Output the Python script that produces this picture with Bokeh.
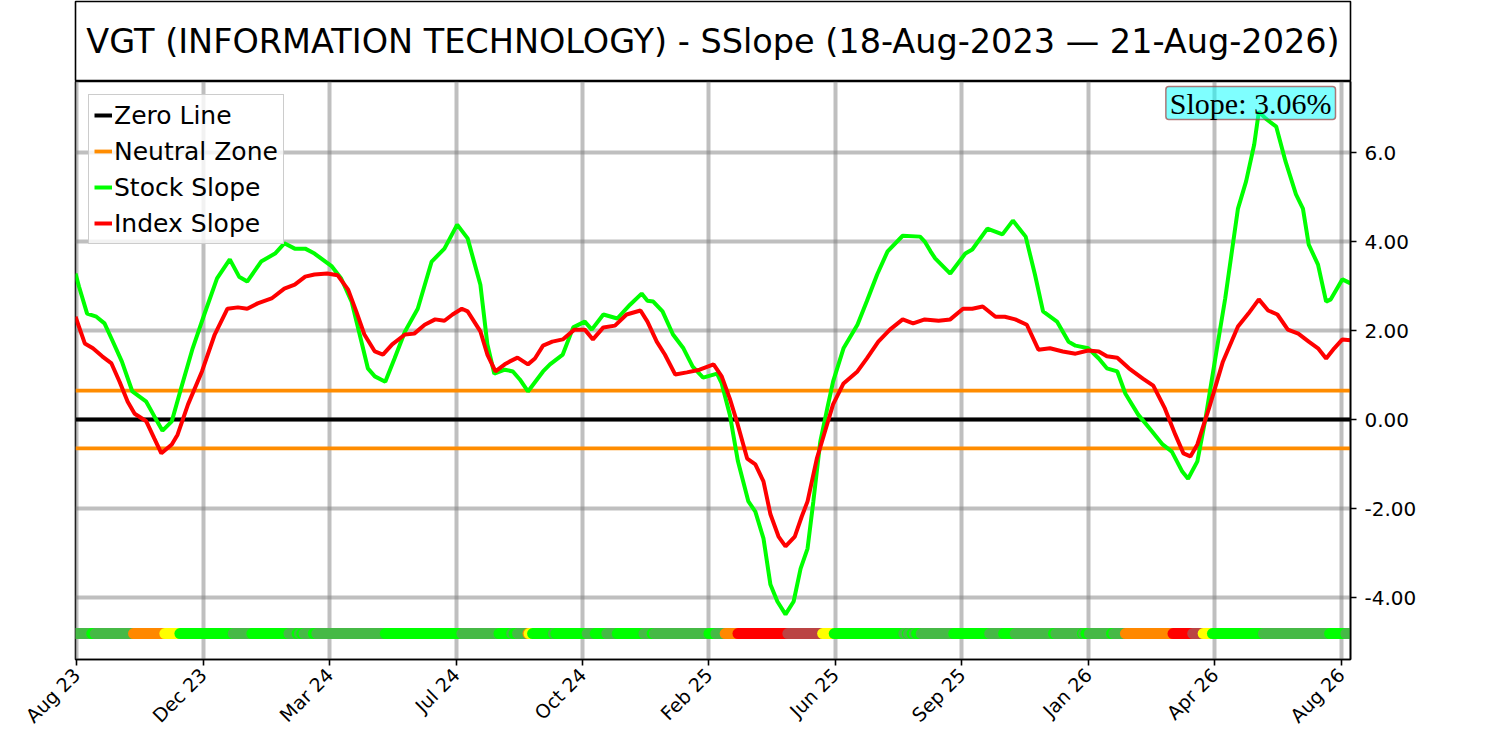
import numpy as np
from bokeh.plotting import figure
from bokeh.models import Range1d, FixedTicker, Label
from bokeh.layouts import column
from bokeh.embed import file_html
from bokeh.resources import INLINE
from bokeh.core.properties import value

TITLE = "VGT (INFORMATION TECHNOLOGY) - SSlope (18-Aug-2023 \u2014 21-Aug-2026)"
SLOPE_TEXT = "Slope: 3.06%"

# x values: days since 18-Aug-2023
x_tick_days = [1, 110, 219, 328, 437, 546, 655, 764, 873, 982, 1091]
x_tick_labels = ["Aug 23", "Dec 23", "Mar 24", "Jul 24", "Oct 24", "Feb 25",
                 "Jun 25", "Sep 25", "Jan 26", "Apr 26", "Aug 26"]
y_ticks = [-4, -2, 0, 2, 4, 6]
y_tick_labels = ["-4.00", "-2.00", "0.00", "2.00", "4.00", "6.0"]

stock_day = [0, 3, 10, 18, 25, 31, 40, 49, 61, 68,
             75, 83, 91, 101, 111, 122, 133, 141, 148, 160,
             172, 180, 189, 198, 206, 221, 229, 238, 247, 252,
             258, 267, 275, 284, 295, 307, 318, 329, 338, 349,
             355, 361, 370, 377, 383, 390, 403, 409, 420, 429,
             439, 445, 455, 467, 478, 488, 493, 498, 506, 515,
             524, 532, 541, 553, 557, 564, 571, 580, 586, 593,
             599, 605, 612, 619, 625, 631, 636, 642, 648, 653,
             662, 674, 682, 691, 700, 713, 728, 732, 737, 741,
             754, 767, 773, 786, 799, 808, 819, 827, 834, 846,
             856, 862, 873, 882, 889, 898, 905, 916, 928, 937,
             945, 954, 959, 967, 974, 983, 991, 1002, 1009, 1016,
             1020, 1026, 1035, 1043, 1052, 1058, 1063, 1071, 1078, 1082,
             1092, 1099]
stock_slope = [3.28, 2.99, 2.38, 2.31, 2.16, 1.82, 1.30, 0.63, 0.40, 0.07,
               -0.25, -0.04, 0.70, 1.60, 2.36, 3.17, 3.60, 3.21, 3.10, 3.55,
               3.73, 3.96, 3.84, 3.84, 3.73, 3.44, 3.17, 2.65, 1.69, 1.15,
               0.97, 0.85, 1.37, 1.98, 2.49, 3.55, 3.84, 4.38, 4.07, 3.03,
               1.69, 1.03, 1.12, 1.08, 0.90, 0.63, 1.08, 1.24, 1.46, 2.07,
               2.20, 2.02, 2.36, 2.27, 2.58, 2.83, 2.67, 2.65, 2.43, 1.91,
               1.60, 1.19, 0.94, 1.03, 0.81, 0.11, -0.94, -1.84, -2.07, -2.67,
               -3.71, -4.09, -4.38, -4.09, -3.35, -2.90, -1.84, -0.49, 0.25, 0.85,
               1.60, 2.13, 2.65, 3.26, 3.78, 4.13, 4.11, 4.00, 3.78, 3.62,
               3.28, 3.73, 3.82, 4.29, 4.16, 4.47, 4.11, 3.26, 2.43, 2.20,
               1.75, 1.66, 1.60, 1.37, 1.15, 1.08, 0.58, 0.11, -0.27, -0.56,
               -0.72, -1.17, -1.33, -0.94, 0.02, 1.46, 2.72, 4.74, 5.35, 6.18,
               6.92, 6.76, 6.58, 5.80, 5.06, 4.74, 3.93, 3.48, 2.65, 2.70,
               3.15, 3.06]

index_day = [0, 8, 15, 23, 31, 38, 45, 51, 61, 68,
             74, 83, 88, 97, 109, 120, 131, 140, 148, 157,
             169, 180, 189, 198, 206, 217, 226, 235, 242, 249,
             258, 265, 273, 284, 292, 301, 310, 318, 325, 333,
             338, 349, 355, 362, 370, 374, 381, 390, 396, 403,
             411, 420, 430, 439, 446, 455, 465, 475, 487, 493,
             501, 508, 517, 527, 538, 550, 557, 564, 570, 579,
             586, 593, 599, 606, 612, 620, 626, 631, 639, 646,
             653, 662, 674, 682, 692, 702, 713, 722, 732, 744,
             754, 765, 773, 782, 793, 801, 810, 820, 830, 840,
             851, 862, 873, 882, 889, 898, 908, 920, 929, 939,
             948, 955, 961, 967, 977, 989, 1002, 1011, 1020, 1028,
             1036, 1045, 1054, 1063, 1071, 1078, 1085, 1092, 1099]
index_slope = [2.31, 1.71, 1.60, 1.42, 1.26, 0.85, 0.40, 0.13, -0.04, -0.43,
               -0.76, -0.56, -0.34, 0.34, 1.08, 1.91, 2.49, 2.52, 2.49, 2.61,
               2.72, 2.94, 3.03, 3.21, 3.26, 3.28, 3.24, 2.92, 2.43, 1.91,
               1.53, 1.46, 1.69, 1.91, 1.93, 2.13, 2.25, 2.22, 2.36, 2.49,
               2.43, 1.98, 1.46, 1.08, 1.24, 1.30, 1.39, 1.24, 1.37, 1.66,
               1.75, 1.80, 2.02, 2.02, 1.80, 2.07, 2.11, 2.36, 2.45, 2.20,
               1.75, 1.46, 1.01, 1.06, 1.12, 1.24, 0.97, 0.47, -0.04, -0.88,
               -1.01, -1.39, -2.13, -2.63, -2.85, -2.63, -2.18, -1.84, -0.88, -0.27,
               0.34, 0.81, 1.08, 1.37, 1.75, 2.02, 2.25, 2.16, 2.25, 2.22,
               2.25, 2.49, 2.49, 2.54, 2.31, 2.31, 2.25, 2.13, 1.57, 1.60,
               1.53, 1.48, 1.55, 1.53, 1.42, 1.39, 1.15, 0.92, 0.76, 0.25,
               -0.34, -0.76, -0.83, -0.56, 0.25, 1.30, 2.09, 2.38, 2.70, 2.45,
               2.36, 2.02, 1.93, 1.75, 1.60, 1.37, 1.60, 1.80, 1.78]

neutral_zone = 0.65

# state strip: start day of each run and its state code
strip_start = [0, 14, 17, 50, 77, 90, 136, 152, 184, 191,
               193, 195, 197, 205, 208, 267, 333, 365, 376, 378,
               381, 390, 391, 394, 412, 414, 441, 448, 458, 467,
               490, 497, 499, 546, 552, 560, 571, 614, 644, 654,
               714, 717, 718, 721, 723, 725, 729, 757, 788, 800,
               810, 843, 845, 868, 869, 871, 874, 893, 895, 905,
               946, 963, 972, 980, 1024, 1081, 1095]
strip_state = ["M", "G", "M", "O", "Y", "G", "M", "G", "M", "G",
               "M", "G", "M", "G", "M", "G", "M", "G", "M", "G",
               "M", "O", "Y", "G", "M", "G", "M", "G", "M", "G",
               "M", "G", "M", "G", "M", "O", "R", "B", "Y", "G",
               "M", "G", "M", "G", "M", "G", "M", "G", "M", "G",
               "M", "G", "M", "G", "M", "G", "M", "G", "M", "O",
               "R", "B", "Y", "G", "M", "G", "M"]
STATE_COLORS = {"G": "#00ff00", "M": "#46b946", "O": "#ff8800",
                "Y": "#ffff00", "R": "#ff0000", "B": "#bb4444"}
STRIP_Y = -4.81

X0, X1 = stock_day[0], stock_day[-1]
Y0, Y1 = -5.393, 7.596

W = 1490
FL = 75
FR = W - FL - 1275
FONT = "DejaVu Sans"

# ---- title box ----
tf = figure(width=W, height=81, x_range=Range1d(0, 1), y_range=Range1d(0, 1),
            x_axis_type=None, y_axis_type=None, output_backend="svg",
            toolbar_location=None, min_border_left=FL, min_border_right=FR,
            min_border_top=1, min_border_bottom=0)
tf.grid.visible = False
tf.outline_line_color = "black"
tf.outline_line_width = 1.6
tf.outline_line_alpha = 1.0
tf.text(x=[0.5], y=[0.5], text=[TITLE], text_align="center", text_baseline="middle",
        text_font=value(FONT), text_font_size="33.5px", text_color="black")

# ---- main plot ----
p = figure(width=W, height=658, x_range=Range1d(X0, X1), y_range=Range1d(Y0, Y1),
           y_axis_location="right", output_backend="svg", toolbar_location=None,
           min_border_left=FL, min_border_right=FR, min_border_top=0,
           min_border_bottom=80)
p.outline_line_color = "black"
p.outline_line_width = 1.6
p.outline_line_alpha = 1.0

p.xaxis.ticker = FixedTicker(ticks=x_tick_days)
p.xaxis.major_label_overrides = {d: l for d, l in zip(x_tick_days, x_tick_labels)}
p.xaxis.major_label_orientation = np.pi / 4
p.xaxis.major_label_text_font_size = "19px"
p.yaxis.ticker = FixedTicker(ticks=y_ticks)
p.yaxis.major_label_overrides = {t: l for t, l in zip(y_ticks, y_tick_labels)}
p.yaxis.major_label_text_font_size = "20px"
for ax in (p.xaxis, p.yaxis):
    ax.major_label_text_font = FONT
    ax.major_label_text_color = "black"
    ax.axis_line_color = "black"
    ax.axis_line_width = 1.6
    ax.major_tick_line_color = "black"
    ax.major_tick_line_width = 1.6
    ax.major_tick_out = 6
    ax.major_tick_in = 0
    ax.minor_tick_line_color = None
p.xaxis.major_label_standoff = 6
p.yaxis.major_label_standoff = 8

p.xgrid.ticker = FixedTicker(ticks=x_tick_days)
p.ygrid.ticker = FixedTicker(ticks=y_ticks)
p.grid.grid_line_color = "gray"
p.grid.grid_line_alpha = 0.5
p.grid.grid_line_width = 4

p.line([X0, X1], [0, 0], line_color="black", line_width=4, legend_label="Zero Line")
p.line([X0, X1], [neutral_zone, neutral_zone], line_color="#ff8c00", line_width=3.8,
       legend_label="Neutral Zone")
p.line([X0, X1], [-neutral_zone, -neutral_zone], line_color="#ff8c00", line_width=3.8)
p.line(stock_day, stock_slope, line_color="#00ff00", line_width=4,
       legend_label="Stock Slope")
p.line(index_day, index_slope, line_color="#ff0000", line_width=4,
       legend_label="Index Slope")

ends = strip_start[1:] + [X1]
xs, ys, cols = [], [], []
for s, e, c in zip(strip_start, ends, strip_state):
    xs.append([s, e])
    ys.append([STRIP_Y, STRIP_Y])
    cols.append(STATE_COLORS[c])
p.multi_line(xs, ys, line_color=cols, line_width=11, line_cap="round")

lg = p.legend[0]
lg.location = "top_left"
lg.margin = 13
lg.padding = 5
lg.spacing = 6
lg.glyph_width = 18
lg.glyph_height = 30
lg.label_height = 30
lg.label_standoff = 2
lg.label_text_font = FONT
lg.label_text_font_size = "25px"
lg.label_text_color = "black"
lg.border_line_color = "#cccccc"
lg.border_line_width = 1.5
lg.border_line_alpha = 1.0
lg.background_fill_alpha = 0.8

slope_label = Label(x=X1, y=Y1, text=SLOPE_TEXT, text_align="right", text_baseline="top",
                    x_offset=-15, y_offset=-5, text_font="Liberation Serif",
                    text_font_size="30px", text_color="black",
                    background_fill_color="#00ffff", background_fill_alpha=0.5,
                    border_line_color="#a04040", border_line_alpha=0.7,
                    border_line_width=1.5,
                    padding=dict(left=4, right=4, top=0, bottom=0),
                    border_radius=3)
p.add_layout(slope_label)

layout = column(tf, p)
open("out.html", "w").write(file_html(layout, INLINE))
